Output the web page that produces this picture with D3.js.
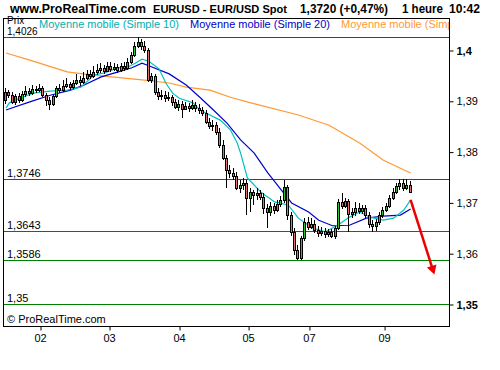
<!DOCTYPE html>
<html>
<head>
<meta charset="utf-8">
<script src="https://cdn.jsdelivr.net/npm/d3@7"></script>
<style>
  body { margin: 0; background: #fff; }
  svg text { font-family: "Liberation Sans", Arial, sans-serif; }
</style>
</head>
<body>
<div id="chart"></div>
<script>
// hourly EUR/USD candles [open, high, low, close]
const candles = [
  [1.3902,1.3925,1.3894,1.3917],[1.3917,1.3921,1.3905,1.3911],[1.3911,1.3917,1.3894,1.3898],[1.3898,1.3913,1.3892,1.3909],
  [1.3909,1.3915,1.3896,1.3902],[1.3902,1.3919,1.3898,1.3913],[1.3913,1.3929,1.3907,1.3919],[1.3919,1.3925,1.3909,1.3915],
  [1.3915,1.3931,1.3911,1.3923],[1.3923,1.3929,1.3915,1.3921],[1.3921,1.3933,1.3917,1.3925],[1.3925,1.3929,1.3907,1.3911],
  [1.3911,1.3915,1.3890,1.3902],[1.3902,1.3907,1.3882,1.3894],[1.3894,1.3913,1.3890,1.3909],[1.3909,1.3929,1.3905,1.3925],
  [1.3925,1.3933,1.3915,1.3921],[1.3921,1.3941,1.3917,1.3929],[1.3929,1.3945,1.3925,1.3933],[1.3933,1.3937,1.3921,1.3927],
  [1.3927,1.3941,1.3923,1.3935],[1.3935,1.3953,1.3931,1.3941],[1.3941,1.3949,1.3929,1.3937],[1.3937,1.3957,1.3933,1.3945],
  [1.3945,1.3961,1.3941,1.3953],[1.3953,1.3961,1.3943,1.3949],[1.3949,1.3969,1.3945,1.3957],[1.3957,1.3972,1.3951,1.3961],
  [1.3961,1.3974,1.3955,1.3965],[1.3965,1.3970,1.3953,1.3959],[1.3959,1.3976,1.3957,1.3969],[1.3969,1.3976,1.3957,1.3963],
  [1.3963,1.3974,1.3959,1.3967],[1.3967,1.3972,1.3955,1.3961],[1.3961,1.3974,1.3957,1.3969],[1.3969,1.3976,1.3959,1.3965],
  [1.3965,1.3984,1.3961,1.3976],[1.3976,1.3996,1.3972,1.3990],[1.3990,1.4016,1.3986,1.4008],[1.4008,1.4026,1.4004,1.4016],
  [1.4016,1.4022,1.4000,1.4008],[1.4008,1.4018,1.3994,1.4000],[1.4000,1.4004,1.3937,1.3941],[1.3941,1.3955,1.3935,1.3949],
  [1.3949,1.3953,1.3911,1.3917],[1.3917,1.3925,1.3902,1.3909],[1.3909,1.3921,1.3902,1.3911],[1.3911,1.3919,1.3898,1.3905],
  [1.3905,1.3917,1.3900,1.3907],[1.3907,1.3911,1.3890,1.3898],[1.3898,1.3904,1.3884,1.3888],[1.3888,1.3902,1.3880,1.3894],
  [1.3894,1.3900,1.3866,1.3884],[1.3884,1.3898,1.3882,1.3890],[1.3890,1.3896,1.3878,1.3886],[1.3886,1.3902,1.3882,1.3892],
  [1.3892,1.3898,1.3878,1.3886],[1.3886,1.3894,1.3874,1.3882],[1.3882,1.3888,1.3870,1.3876],[1.3876,1.3882,1.3854,1.3858],
  [1.3858,1.3866,1.3845,1.3850],[1.3850,1.3862,1.3841,1.3852],[1.3852,1.3858,1.3833,1.3839],[1.3839,1.3846,1.3807,1.3813],
  [1.3813,1.3823,1.3783,1.3787],[1.3787,1.3793,1.3728,1.3764],[1.3764,1.3774,1.3748,1.3758],[1.3758,1.3768,1.3744,1.3752],
  [1.3752,1.3760,1.3724,1.3728],[1.3728,1.3744,1.3719,1.3734],[1.3734,1.3748,1.3724,1.3738],[1.3738,1.3744,1.3675,1.3709],
  [1.3709,1.3728,1.3681,1.3720],[1.3720,1.3724,1.3695,1.3715],[1.3715,1.3728,1.3705,1.3719],[1.3719,1.3724,1.3705,1.3711],
  [1.3711,1.3719,1.3677,1.3689],[1.3689,1.3697,1.3650,1.3681],[1.3681,1.3701,1.3673,1.3693],[1.3693,1.3699,1.3677,1.3685],
  [1.3685,1.3705,1.3681,1.3697],[1.3697,1.3713,1.3691,1.3705],[1.3705,1.3744,1.3699,1.3730],[1.3730,1.3734,1.3665,1.3675],
  [1.3675,1.3681,1.3634,1.3642],[1.3642,1.3650,1.3597,1.3606],[1.3606,1.3616,1.3586,1.3591],[1.3591,1.3634,1.3586,1.3630],
  [1.3630,1.3669,1.3624,1.3661],[1.3661,1.3671,1.3646,1.3652],[1.3652,1.3669,1.3648,1.3657],[1.3657,1.3665,1.3640,1.3646],
  [1.3646,1.3654,1.3632,1.3640],[1.3640,1.3652,1.3634,1.3644],[1.3644,1.3650,1.3630,1.3638],[1.3638,1.3648,1.3632,1.3642],
  [1.3642,1.3648,1.3630,1.3634],[1.3634,1.3654,1.3628,1.3650],[1.3650,1.3707,1.3646,1.3701],[1.3701,1.3719,1.3687,1.3693],
  [1.3693,1.3709,1.3689,1.3703],[1.3703,1.3707,1.3642,1.3677],[1.3677,1.3689,1.3669,1.3681],[1.3681,1.3701,1.3673,1.3689],
  [1.3689,1.3699,1.3677,1.3683],[1.3683,1.3695,1.3677,1.3689],[1.3689,1.3695,1.3669,1.3675],[1.3675,1.3681,1.3650,1.3657],
  [1.3657,1.3665,1.3642,1.3654],[1.3654,1.3667,1.3644,1.3661],[1.3661,1.3681,1.3655,1.3675],[1.3675,1.3691,1.3669,1.3685],
  [1.3685,1.3699,1.3681,1.3693],[1.3693,1.3715,1.3689,1.3709],[1.3709,1.3728,1.3705,1.3720],[1.3720,1.3738,1.3717,1.3732],
  [1.3732,1.3746,1.3724,1.3738],[1.3738,1.3746,1.3722,1.3728],[1.3728,1.3746,1.3724,1.3734],[1.3734,1.3742,1.3719,1.3720]
];

// moving averages, read at candle indexes [index, value]
const sma10 = [
  [0,1.3886],[1,1.3896],[4,1.3905],[8,1.3915],[13,1.3919],[18,1.3921],[22,1.3927],[26,1.3951],[29,1.3955],
  [33,1.3965],[36,1.3967],[38,1.3974],[40,1.3982],[42,1.3978],[45,1.3963],[47,1.3935],[49,1.3915],[51,1.3905],
  [55,1.3896],[57,1.3882],[60,1.3872],[63,1.3862],[66,1.3843],[68,1.3817],[69,1.3797],[71,1.3748],[75,1.3720],
  [79,1.3701],[83,1.3695],[86,1.3669],[90,1.3650],[94,1.3642],[98,1.3657],[101,1.3671],[104,1.3681],[107,1.3671],
  [111,1.3665],[114,1.3669],[117,1.3685],[119,1.3705]
];
const sma20 = [
  [0,1.3882],[7,1.3898],[13,1.3911],[19,1.3921],[23,1.3931],[28,1.3947],[33,1.3957],[37,1.3965],[40,1.3974],
  [42,1.3969],[48,1.3953],[53,1.3931],[57,1.3907],[61,1.3882],[65,1.3856],[69,1.3823],[73,1.3797],[77,1.3758],
  [81,1.3724],[84,1.3699],[89,1.3681],[92,1.3665],[96,1.3654],[101,1.3655],[106,1.3669],[111,1.3673],[116,1.3675],
  [119,1.3687]
];
const smaLong = [
  [0,1.3994],[7,1.3980],[18,1.3957],[25,1.3951],[31,1.3947],[40,1.3941],[48,1.3935],[53,1.3927],[60,1.3921],
  [66,1.3907],[72,1.3896],[86,1.3872],[95,1.3852],[104,1.3817],[111,1.3783],[119,1.3758]
];

// support / resistance lines
const levels = [1.4026, 1.3746, 1.3643, 1.3586, 1.35];
const levelLabels = ["1,4026", "1,3746", "1,3643", "1,3586", "1,35"];
const levelColors = ["#e00000", "#e00000", "#008000", "#008000", "#008000"];

const priceTicks = [1.40, 1.39, 1.38, 1.37, 1.36, 1.35];
const priceTickLabels = ["1,4", "1,39", "1,38", "1,37", "1,36", "1,35"];
const dayTicks = [10, 30.3, 50.9, 71.2, 89.1, 111.2];
const dayLabels = ["02", "03", "04", "05", "07", "09"];

// projected move (arrow): [index, price]
const arrow = [[119, 1.3705], [126, 1.3558]];

const width = 500, height = 370;
const frame = { left: 3, top: 18, right: 449, bottom: 326 };

const svg = d3.select("#chart").append("svg")
    .attr("width", width)
    .attr("height", height);

const x = d3.scaleLinear().domain([0, candles.length - 1]).range([6, 6 + 3.4 * (candles.length - 1)]);
const y = d3.scaleLinear().domain([1.35, 1.40]).range([304, 50]);

// title row: [text, left, width, font size]
const titleParts = [
  ["www.ProRealTime.com", 10, 136, 12.5], ["EURUSD - EUR/USD Spot", 153, 134, 11.5],
  ["1,3720 (+0,47%)", 300, 88, 12.5], ["1 heure", 402, 41, 12.5], ["10:42", 449, 31, 12.5]
];
svg.append("g").selectAll("text")
  .data(titleParts)
  .join("text")
    .attr("x", d => d[1])
    .attr("y", 13)
    .attr("font-size", d => d[3] + "px")
    .attr("font-weight", "bold")
    .attr("fill", "#000")
    .attr("textLength", d => d[2])
    .attr("lengthAdjust", "spacingAndGlyphs")
    .text(d => d[0]);

svg.append("defs").append("clipPath").attr("id", "plot")
  .append("rect")
    .attr("x", frame.left).attr("y", frame.top)
    .attr("width", frame.right - frame.left).attr("height", frame.bottom - frame.top);

const plot = svg.append("g").attr("clip-path", "url(#plot)");

// horizontal levels
plot.selectAll(".level")
  .data(levels)
  .join("line")
    .attr("class", "level")
    .attr("x1", frame.left).attr("x2", frame.right)
    .attr("y1", d => Math.round(y(d)) + 0.5)
    .attr("y2", d => Math.round(y(d)) + 0.5)
    .attr("stroke", (d, i) => levelColors[i])
    .attr("stroke-width", 1);

plot.selectAll(".level-label")
  .data(levels)
  .join("text")
    .attr("class", "level-label")
    .attr("x", 7)
    .attr("y", d => Math.round(y(d)) - 2)
    .attr("font-size", (d, i) => i === 0 ? "10px" : "11px")
    .attr("fill", "#000")
    .text((d, i) => levelLabels[i]);

// moving averages
const maLine = d3.line().x(d => x(d[0])).y(d => y(d[1]));
plot.append("path").datum(smaLong)
    .attr("d", maLine).attr("fill", "none").attr("stroke", "#ff9933").attr("stroke-width", 1.2);
plot.append("path").datum(sma20)
    .attr("d", maLine).attr("fill", "none").attr("stroke", "#0000cc").attr("stroke-width", 1.2);
plot.append("path").datum(sma10)
    .attr("d", maLine).attr("fill", "none").attr("stroke", "#00c0c0").attr("stroke-width", 1.2);

// candles
const candle = plot.selectAll(".candle")
  .data(candles)
  .join("g")
    .attr("class", "candle");

candle.append("line")
    .attr("x1", (d, i) => Math.round(x(i)) - 0.5)
    .attr("x2", (d, i) => Math.round(x(i)) - 0.5)
    .attr("y1", d => Math.round(y(d[1])))
    .attr("y2", d => Math.round(y(d[2])))
    .attr("stroke", "#000");

candle.append("rect")
    .attr("x", (d, i) => Math.round(x(i)) - 1.5)
    .attr("y", d => Math.round(y(Math.max(d[0], d[3]))) + 0.5)
    .attr("width", 2)
    .attr("height", d => Math.max(1, Math.round(Math.abs(y(d[0]) - y(d[3])))))
    .attr("fill", d => d[3] >= d[0] ? "#33c033" : "#dd7070")
    .attr("stroke", "#000")
    .attr("stroke-width", 1);

// red arrow
const ax1 = x(arrow[0][0]), ay1 = y(arrow[0][1]);
const ax2 = x(arrow[1][0]), ay2 = y(arrow[1][1]);
const ang = Math.atan2(ay2 - ay1, ax2 - ax1);
const headLen = 9, headW = 5;
plot.append("line")
    .attr("x1", ax1).attr("y1", ay1)
    .attr("x2", ax2 - Math.cos(ang) * 6).attr("y2", ay2 - Math.sin(ang) * 6)
    .attr("stroke", "#ee0000").attr("stroke-width", 2.5);
plot.append("path")
    .attr("d", "M" + ax2 + "," + ay2 +
      "L" + (ax2 - headLen * Math.cos(ang) + headW * Math.sin(ang)) + "," + (ay2 - headLen * Math.sin(ang) - headW * Math.cos(ang)) +
      "L" + (ax2 - headLen * Math.cos(ang) - headW * Math.sin(ang)) + "," + (ay2 - headLen * Math.sin(ang) + headW * Math.cos(ang)) + "Z")
    .attr("fill", "#ee0000");

// legend row
svg.append("text").attr("x", 7).attr("y", 24).attr("font-size", "10px").text("Prix");
const legend = [
  ["Moyenne mobile (Simple 10)", "#00b0b0", 39],
  ["Moyenne mobile (Simple 20)", "#0000cc", 190],
  ["Moyenne mobile (Simple 100)", "#ff9933", 341]
];
plot.selectAll(".legend")
  .data(legend)
  .join("text")
    .attr("class", "legend")
    .attr("x", d => d[2])
    .attr("y", 28)
    .attr("font-size", "11px")
    .attr("fill", d => d[1])
    .text(d => d[0]);

plot.append("text")
    .attr("x", 7).attr("y", 323)
    .attr("font-size", "11px")
    .text("\u00a9 ProRealTime.com");

// frame
svg.append("rect")
    .attr("x", frame.left + 0.5).attr("y", frame.top + 0.5)
    .attr("width", frame.right - frame.left).attr("height", frame.bottom - frame.top)
    .attr("fill", "none").attr("stroke", "#000");

// right price axis
const yAxis = svg.append("g")
    .attr("transform", "translate(" + (frame.right + 0.5) + ",0.5)")
    .call(d3.axisRight(y).tickValues(priceTicks).tickSize(4).tickFormat((d, i) => priceTickLabels[i]));
yAxis.select(".domain").remove();
yAxis.selectAll("text")
    .attr("font-family", "Liberation Sans, Arial, sans-serif")
    .attr("font-size", "11px")
    .attr("font-weight", (d, i) => (i === 0 || i === priceTicks.length - 1) ? "bold" : "normal")
    .attr("x", 7);

// bottom day axis
const xAxis = svg.append("g")
    .attr("transform", "translate(0," + (frame.bottom + 0.5) + ")")
    .call(d3.axisBottom(x).tickValues(dayTicks).tickSize(4).tickFormat((d, i) => dayLabels[i]));
xAxis.select(".domain").remove();
xAxis.selectAll("line").attr("transform", "translate(0.5,0)");
xAxis.selectAll("text")
    .attr("font-family", "Liberation Sans, Arial, sans-serif")
    .attr("font-size", "11px")
    .attr("y", 8);
</script>
</body>
</html>
